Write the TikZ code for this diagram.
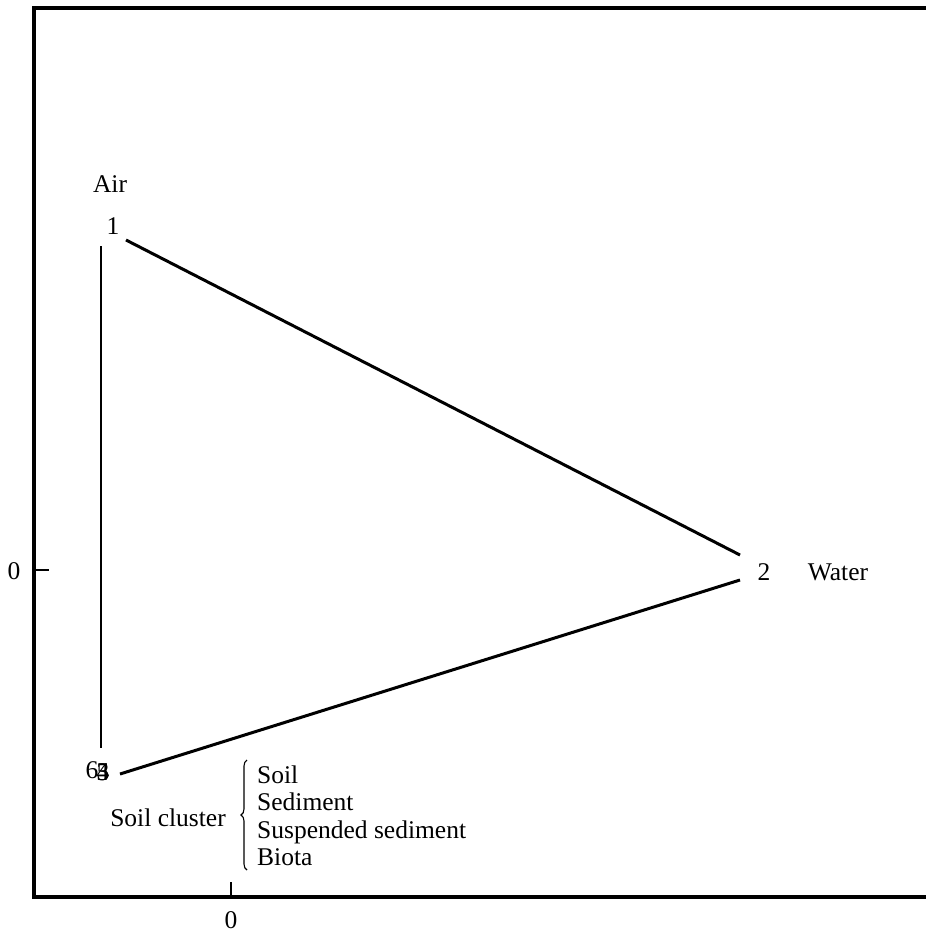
\documentclass[tikz,border=0pt]{standalone}
\usepackage{fontspec}
\setmainfont{Liberation Serif}
\usetikzlibrary{decorations.pathreplacing}
\begin{document}
\begin{tikzpicture}[x=1pt,y=-1pt,
  lbl/.style={inner sep=0pt,font=\fontsize{25.5}{27.5}\selectfont},
  edge/.style={line width=3pt},
  axis/.style={line width=3.5pt}]
\useasboundingbox (0,0) rectangle (926,937);
% frame
\draw[axis] (926,8) -- (34,8) -- (34,897) -- (926,897);
\coordinate (yt0) at (34,570); \coordinate (yt1) at (49,570);
\draw[line width=2.2pt] (yt0) -- (yt1);
\coordinate (xt0) at (231,897); \coordinate (xt1) at (231,882);
\draw[line width=2.2pt] (xt0) -- (xt1);
\node[lbl] (y0) at (14,571) {0};
\node[lbl] (x0) at (231,920) {0};
% labels
\node[lbl] (air) at (110,184) {Air};
\node[lbl] (n1) at (113,226) {1};
\node[lbl] (n2) at (764,572) {2};
\node[lbl] (water) at (838,572) {Water};
\node[lbl] (n6) at (92,770) {6};
\node[lbl] (n3) at (103,772) {3};
\node[lbl] (n4) at (103,772) {4};
\node[lbl] (n5) at (103,772) {5};
\node[lbl] (cluster) at (168,818) {Soil cluster};
\node[lbl,anchor=west,align=left] (list) at (257,816) {Soil\\Sediment\\Suspended sediment\\Biota};
% connectors
\coordinate (a1) at (126,240);
\coordinate (a2) at (740,555);
\coordinate (b2) at (740,580);
\coordinate (b3) at (120,774);
\coordinate (c1) at (101,246);
\coordinate (c3) at (101,748);
\draw[edge] (a1) -- (a2);
\draw[edge] (b2) -- (b3);
\draw[line width=2.2pt] (c1) -- (c3);
% brace
\coordinate (br0) at (247,760);
\coordinate (br1) at (247,870);
\draw[line width=1.1pt,decorate,decoration={brace,amplitude=6pt,mirror}] (br0) -- (br1);
\end{tikzpicture}
\end{document}
